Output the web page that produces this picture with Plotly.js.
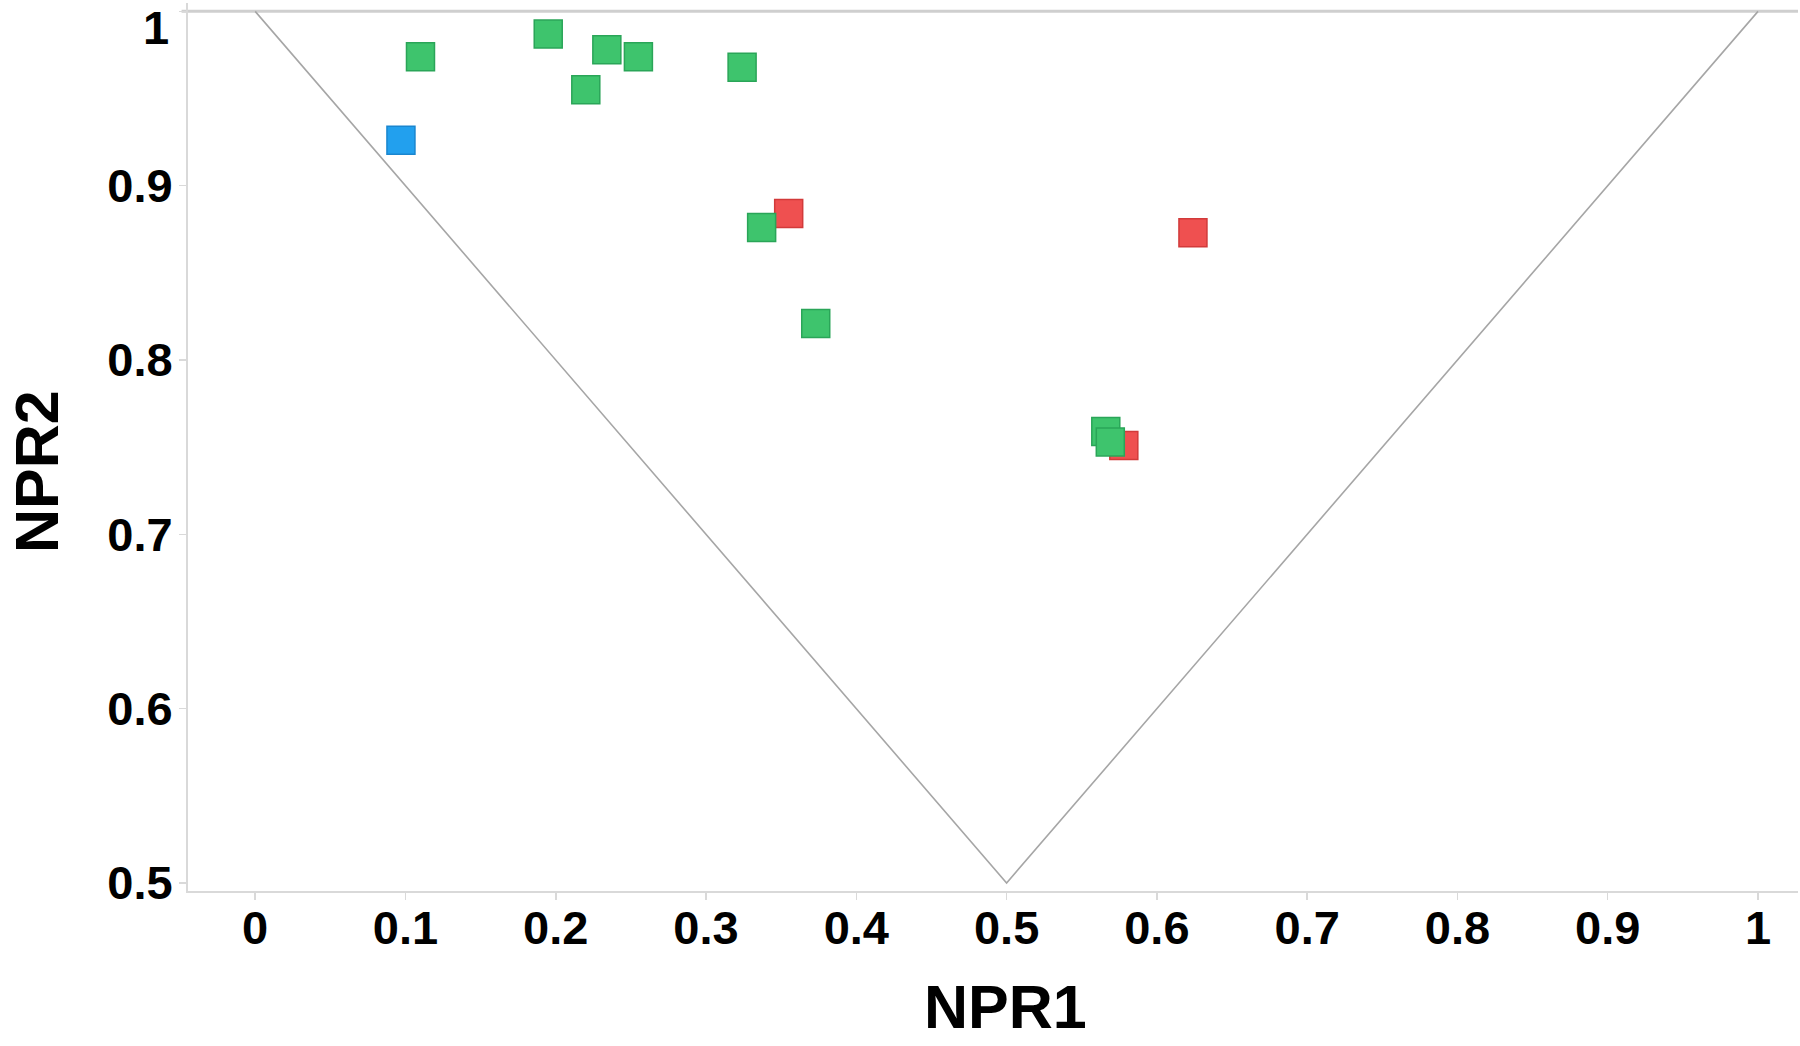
<!DOCTYPE html>
<html>
<head>
<meta charset="utf-8">
<script src="https://cdn.plot.ly/plotly-3.0.1.min.js"></script>
<style>html,body{margin:0;padding:0;background:#fff;}#chart{width:1800px;height:1046px;}</style>
</head>
<body>
<div id="chart"></div>
<script>
// PMI-style data (NPR1, NPR2)
const greenNPR1 = [0.110, 0.195, 0.234, 0.255, 0.220, 0.324, 0.337, 0.373, 0.566, 0.569];
const greenNPR2 = [0.974, 0.987, 0.978, 0.974, 0.955, 0.968, 0.876, 0.821, 0.759, 0.753];
const redNPR1 = [0.355, 0.624, 0.578];
const redNPR2 = [0.884, 0.873, 0.751];
const blueNPR1 = [0.097];
const blueNPR2 = [0.926];
// triangle boundary (rod - disc - sphere)
const boundaryNPR1 = [0, 0.5, 1];
const boundaryNPR2 = [1, 0.5, 1];
const xTicks = [0, 0.1, 0.2, 0.3, 0.4, 0.5, 0.6, 0.7, 0.8, 0.9, 1];
const yTicks = [0.5, 0.6, 0.7, 0.8, 0.9, 1];
const xTitle = 'NPR1';
const yTitle = 'NPR2';

const font = 'Liberation Sans, Arial, sans-serif';
function pts(x, y, fill, border) {
  return {x: x, y: y, type: 'scatter', mode: 'markers', cliponaxis: false,
    marker: {symbol: 'square', size: 28, color: fill, line: {color: border, width: 1.5}},
    hoverinfo: 'x+y', showlegend: false};
}
const traces = [
  {x: boundaryNPR1, y: boundaryNPR2, type: 'scatter', mode: 'lines',
   line: {color: '#a6a6a6', width: 1.6}, hoverinfo: 'skip', showlegend: false},
  pts(blueNPR1, blueNPR2, '#22a0ee', '#1a86cf'),
  pts(redNPR1, redNPR2, '#ef5050', '#d23a3a'),
  pts(greenNPR1, greenNPR2, '#3ec46d', '#2aa558')
];
// the top "1" label sits below its tick in the reference; draw it as an annotation
const yTickText = yTicks.map(v => v === 1 ? '' : String(v));
const tickFont = {family: font, size: 47, color: '#000', weight: 'bold'};
const titleFont = {family: font, size: 61, color: '#000', weight: 'bold'};
const layout = {
  width: 1800, height: 1046,
  margin: {l: 188, r: 2, t: 3, b: 155},
  paper_bgcolor: '#ffffff', plot_bgcolor: '#ffffff',
  font: {family: font, color: '#000'},
  xaxis: {
    range: [-0.0447, 1.0266], tickvals: xTicks, ticktext: xTicks.map(String),
    showgrid: false, zeroline: false, showline: true, linecolor: '#d9d9d9', linewidth: 2,
    ticks: 'outside', ticklen: 7, tickwidth: 1.5, tickcolor: '#d9d9d9',
    tickfont: tickFont, ticklabelstandoff: -12
  },
  yaxis: {
    range: [0.4954, 1.0048], tickvals: yTicks, ticktext: yTickText,
    showgrid: false, zeroline: false, showline: true, linecolor: '#d9d9d9', linewidth: 2,
    ticks: 'outside', ticklen: 7, tickwidth: 1.5, tickcolor: '#d9d9d9',
    tickfont: tickFont, ticklabelstandoff: -3
  },
  shapes: [{type: 'line', xref: 'paper', yref: 'y', x0: -0.004, x1: 1, y0: 1, y1: 1,
            line: {color: '#cfcfcf', width: 3}, layer: 'below'}],
  annotations: [
    {text: '1', xref: 'paper', yref: 'y', x: 0, y: 1, xanchor: 'right', yanchor: 'middle',
     xshift: -17, yshift: -16, showarrow: false, font: tickFont},
    {text: xTitle, xref: 'paper', yref: 'paper', x: 0.5078, y: -0.0898, xanchor: 'center', yanchor: 'top',
     showarrow: false, font: titleFont},
    {text: yTitle, xref: 'paper', yref: 'paper', x: -0.0938, y: 0.473, xanchor: 'center', yanchor: 'middle',
     textangle: -90, showarrow: false, font: titleFont}
  ]
};
Plotly.newPlot('chart', traces, layout, {displayModeBar: false, staticPlot: true});
</script>
</body>
</html>
